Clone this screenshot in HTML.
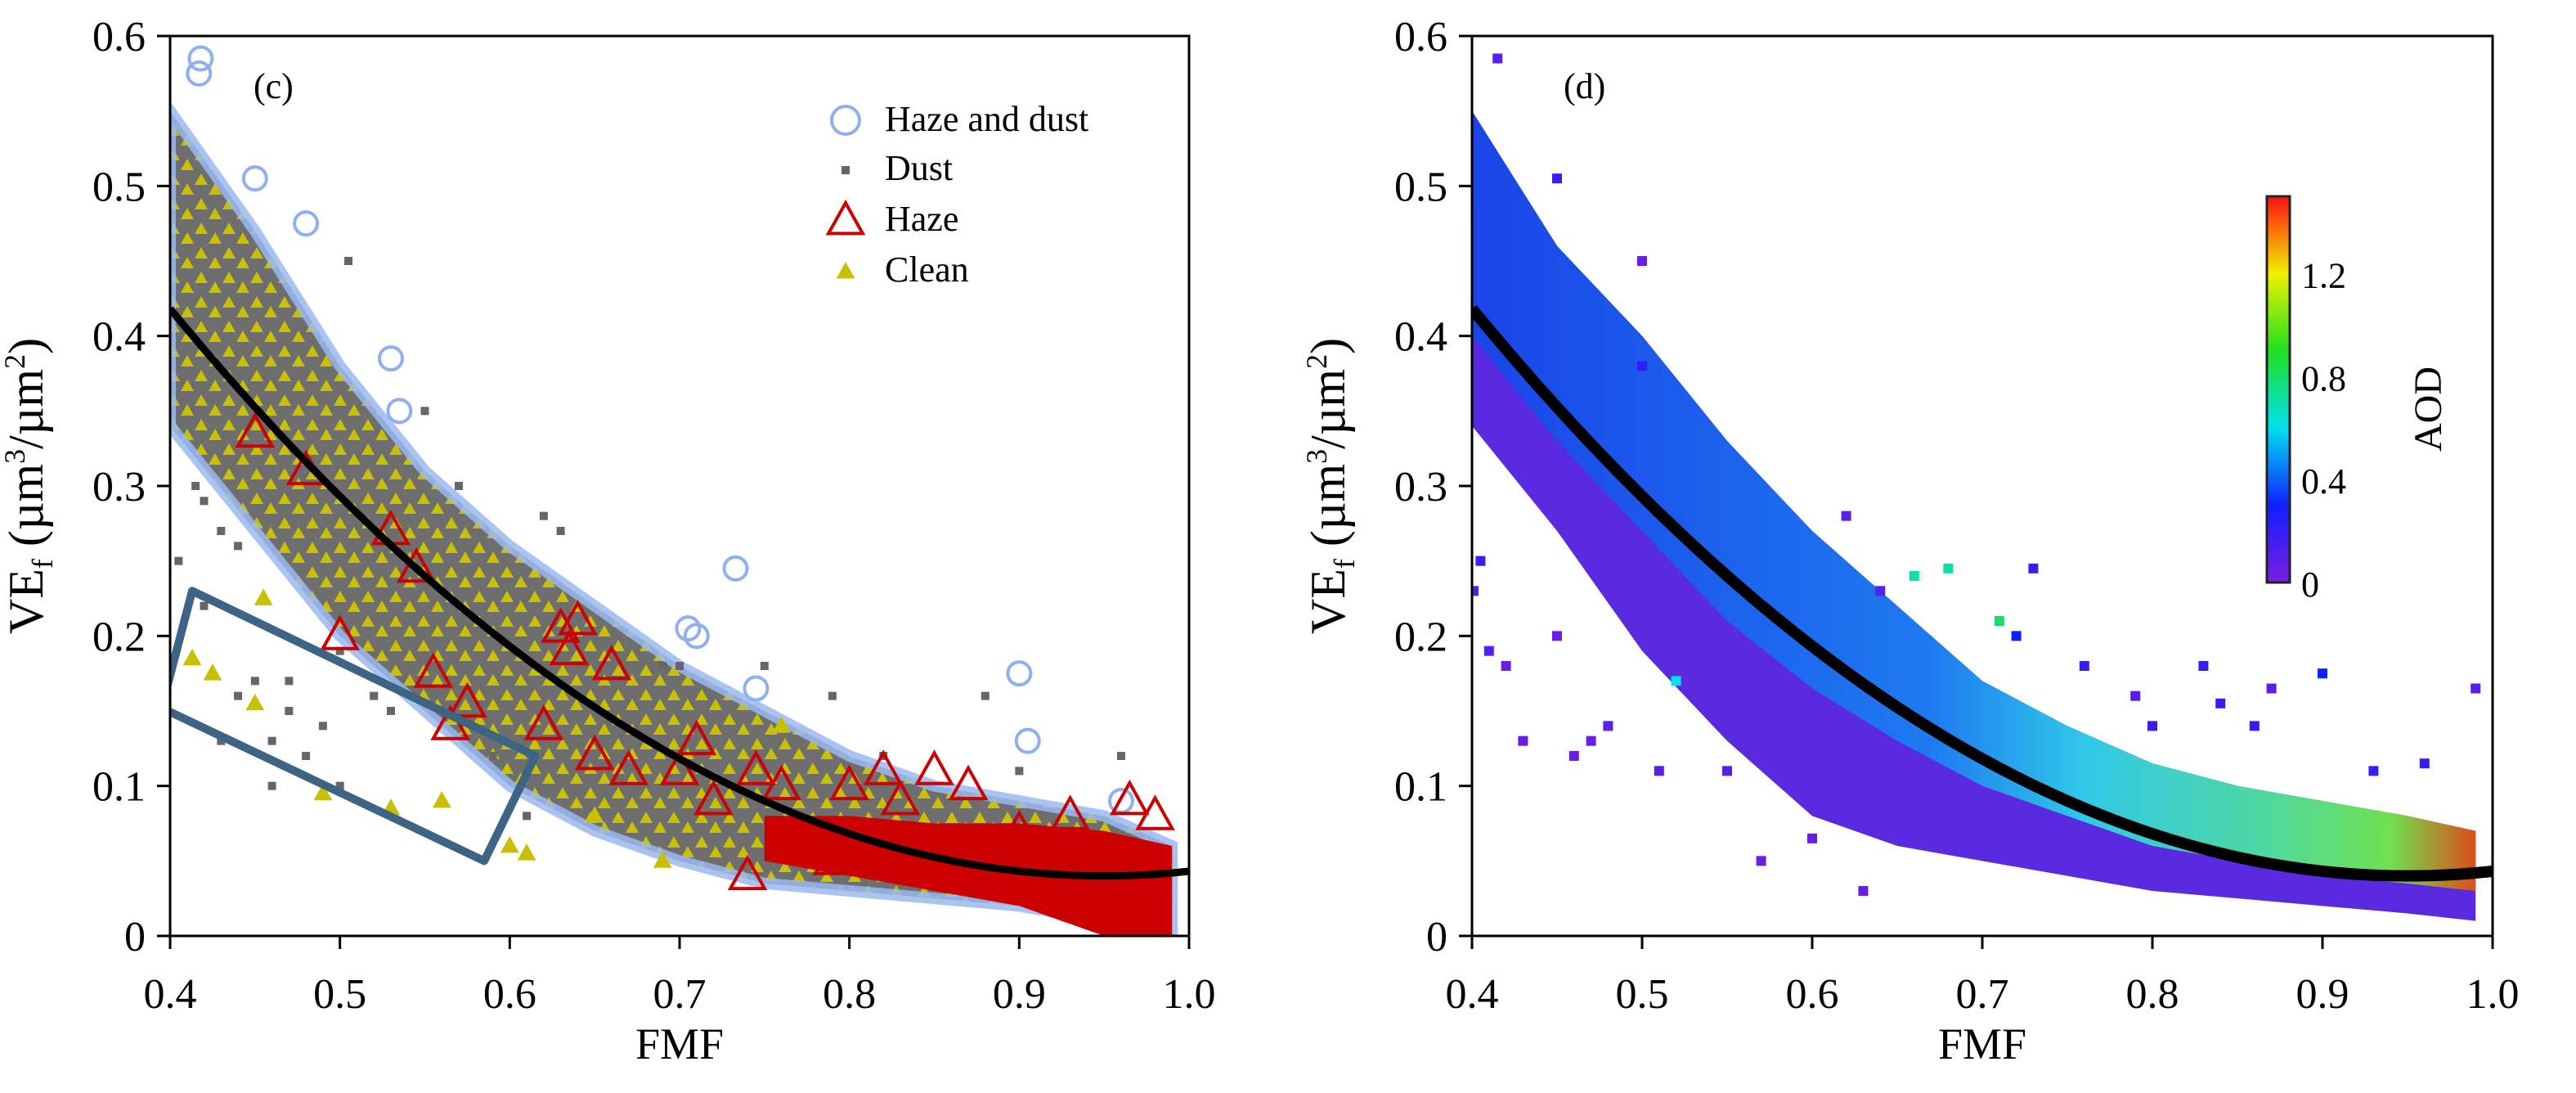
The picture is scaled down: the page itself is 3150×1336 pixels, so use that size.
<!DOCTYPE html>
<html><head><meta charset="utf-8"><style>
html,body{margin:0;padding:0;background:#fff;}
svg{display:block;font-family:"Liberation Serif",serif;}
</style></head><body>
<svg id="fig" width="3150" height="1336" viewBox="0 0 3150 1336" xmlns="http://www.w3.org/2000/svg">
<defs>
<pattern id="mixpat" width="34" height="30" patternUnits="userSpaceOnUse">
<rect width="34" height="30" fill="#6e6e6e"/>
<polygon points="8,2 16,16 0,16" fill="#c8c000"/>
<polygon points="25,14 33,28 17,28" fill="#c8c000"/>
</pattern>
<linearGradient id="cbgrad" x1="0" y1="1" x2="0" y2="0">
<stop offset="0" stop-color="#7a1ee0"/><stop offset="0.2" stop-color="#1020ff"/>
<stop offset="0.4" stop-color="#00e0f0"/><stop offset="0.6" stop-color="#20e020"/>
<stop offset="0.8" stop-color="#f0f000"/><stop offset="1" stop-color="#ff1010"/>
</linearGradient>
<linearGradient id="dgrad" x1="1800" y1="0" x2="3048" y2="0" gradientUnits="userSpaceOnUse">
<stop offset="0" stop-color="#1a44e8"/><stop offset="0.45" stop-color="#1e7af0"/>
<stop offset="0.6" stop-color="#30c8e8"/><stop offset="0.78" stop-color="#50d8a0"/>
<stop offset="0.9" stop-color="#70e050"/><stop offset="1" stop-color="#f03010"/>
</linearGradient>
<clipPath id="clipL"><rect x="208" y="44" width="1246" height="1100"/></clipPath>
<clipPath id="clipR"><rect x="1800" y="44" width="1248" height="1100"/></clipPath>
</defs>
<g id="root"></g>
</svg>
<script>
// ---- data ----
const xTicks = [0.4,0.5,0.6,0.7,0.8,0.9,1.0];
const xTickLabels = ["0.4","0.5","0.6","0.7","0.8","0.9","1.0"];
const yTicks = [0,0.1,0.2,0.3,0.4,0.5,0.6];
const yTickLabels = ["0","0.1","0.2","0.3","0.4","0.5","0.6"];
const fitA = 1.25, fitX0 = 0.95, fitC = 0.04;
const bandX = [0.4,0.45,0.5,0.55,0.6,0.65,0.7,0.75,0.8,0.85,0.9,0.95,0.99];
const bandUpperC = [0.55,0.47,0.38,0.31,0.26,0.22,0.18,0.15,0.12,0.10,0.09,0.08,0.06];
const bandLowerC = [0.34,0.27,0.20,0.15,0.10,0.07,0.05,0.035,0.03,0.025,0.02,0.01,0.0];
const hazeBandX = [0.75,0.8,0.85,0.9,0.95,0.99];
const hazeBandUpper = [0.08,0.08,0.075,0.075,0.07,0.06];
const hazeBandLower = [0.05,0.04,0.03,0.02,0.0,0.0];
const hazeTriX = [0.45,0.48,0.5,0.53,0.545,0.555,0.565,0.575,0.62,0.63,0.635,0.64,0.66,0.65,0.67,0.7,0.71,0.72,0.74,0.745,0.76,0.79,0.8,0.82,0.83,0.85,0.87,0.9,0.93,0.965,0.98];
const hazeTriY = [0.335,0.31,0.2,0.27,0.245,0.175,0.14,0.155,0.14,0.205,0.19,0.21,0.18,0.12,0.11,0.11,0.13,0.09,0.04,0.11,0.1,0.05,0.1,0.11,0.09,0.11,0.1,0.07,0.08,0.09,0.08];
const dustX = [0.405,0.415,0.42,0.43,0.44,0.45,0.46,0.47,0.48,0.49,0.5,0.505,0.52,0.53,0.55,0.57,0.59,0.61,0.62,0.63,0.69,0.7,0.75,0.79,0.82,0.88,0.9,0.96,0.42,0.44,0.47,0.5,0.43,0.46];
const dustY = [0.25,0.3,0.29,0.27,0.16,0.17,0.13,0.15,0.12,0.14,0.19,0.45,0.16,0.15,0.35,0.3,0.12,0.08,0.28,0.27,0.18,0.18,0.18,0.16,0.12,0.16,0.11,0.12,0.22,0.26,0.17,0.1,0.13,0.1];
const clean2X = [0.413,0.425,0.45,0.455,0.49,0.53,0.56,0.6,0.61,0.65,0.69,0.76];
const clean2Y = [0.185,0.175,0.155,0.225,0.095,0.085,0.09,0.06,0.055,0.08,0.05,0.14];
const hdX = [0.418,0.417,0.45,0.48,0.53,0.535,0.733,0.705,0.71,0.745,0.9,0.905,0.96];
const hdY = [0.585,0.575,0.505,0.475,0.385,0.35,0.245,0.205,0.2,0.165,0.175,0.13,0.09];
// right chart
const bandUpperD = [0.55,0.46,0.40,0.33,0.27,0.22,0.17,0.14,0.115,0.10,0.09,0.08,0.07];
const bandMidD = [0.40,0.33,0.27,0.21,0.165,0.13,0.1,0.08,0.06,0.05,0.04,0.035,0.03];
const bandLowerD = [0.34,0.27,0.19,0.13,0.08,0.06,0.05,0.04,0.03,0.025,0.02,0.015,0.01];
const outX = [0.401,0.405,0.41,0.42,0.43,0.45,0.46,0.47,0.48,0.5,0.51,0.52,0.55,0.57,0.6,0.62,0.63,0.64,0.66,0.68,0.71,0.72,0.73,0.76,0.79,0.8,0.83,0.84,0.86,0.87,0.9,0.93,0.96,0.99,0.415,0.5,0.45];
const outY = [0.23,0.25,0.19,0.18,0.13,0.2,0.12,0.13,0.14,0.45,0.11,0.17,0.11,0.05,0.065,0.28,0.03,0.23,0.24,0.245,0.21,0.2,0.245,0.18,0.16,0.14,0.18,0.155,0.14,0.165,0.175,0.11,0.115,0.165,0.585,0.38,0.505];
const outAOD = [0.1,0.2,0.1,0.05,0.05,0.05,0.05,0.05,0.1,0.05,0.1,0.6,0.1,0.05,0.05,0.1,0.05,0.1,0.7,0.7,0.8,0.3,0.2,0.2,0.1,0.2,0.2,0.2,0.2,0.1,0.3,0.2,0.2,0.1,0.1,0.2,0.2];
const cbTicks = [0,0.4,0.8,1.2];
const cbMax = 1.5;

// ---- helpers ----
const NS = "http://www.w3.org/2000/svg";
const root = document.getElementById('root');
function mk(tag, attrs, parent){const e=document.createElementNS(NS,tag);for(const k in attrs)e.setAttribute(k,attrs[k]);(parent||root).appendChild(e);return e;}
function axes(x0,x1){return {x:v=>x0+(v-0.4)/0.6*(x1-x0), y:v=>1144-v/0.6*1100};}
const L = axes(208,1454), R = axes(1800,3048);
function fit(v){return fitA*(v-fitX0)*(v-fitX0)+fitC;}
function aodColor(a){const t=Math.min(1,Math.max(0,a/cbMax));
 const st=[[0,[122,30,224]],[0.2,[16,32,255]],[0.4,[0,224,240]],[0.6,[32,224,32]],[0.8,[240,240,0]],[1,[255,16,16]]];
 for(let i=1;i<st.length;i++){if(t<=st[i][0]){const f=(t-st[i-1][0])/(st[i][0]-st[i-1][0]);const c=st[i-1][1].map((v,j)=>Math.round(v+(st[i][1][j]-v)*f));return `rgb(${c})`;}}return 'rgb(255,16,16)';}
function bandPath(A,xs,up,lo){let d='M'+xs.map((v,i)=>A.x(v)+','+A.y(up[i])).join(' L');d+=' L'+xs.slice().reverse().map((v,i)=>A.x(v)+','+A.y(lo[xs.length-1-i])).join(' L')+'Z';return d;}
function triPts(cx,cy,s){return `${cx},${cy-s} ${cx+s*0.95},${cy+s*0.7} ${cx-s*0.95},${cy+s*0.7}`;}

function drawAxes(A,x0,x1,pname){
 const g=mk('g',{});
 
 
 const fr=mk('rect',{x:x0,y:44,width:x1-x0,height:1100,fill:'none',stroke:'#000','stroke-width':3},g);
 
 
 xTicks.forEach((v,i)=>{
  mk('line',{x1:A.x(v),x2:A.x(v),y1:1144,y2:1160,stroke:'#000','stroke-width':3},g);
  const t=mk('text',{x:A.x(v),y:1232,'font-size':52,'text-anchor':'middle'},g);
  t.textContent=xTickLabels[i];
  
  
 });
 yTicks.forEach((v,i)=>{
  mk('line',{x1:x0-16,x2:x0,y1:A.y(v),y2:A.y(v),stroke:'#000','stroke-width':3},g);
  const t=mk('text',{x:x0-30,y:A.y(v)+18,'font-size':52,'text-anchor':'end'},g);
  t.textContent=yTickLabels[i];
  
  
 });
 const xt=mk('text',{x:(x0+x1)/2,y:1294,'font-size':54,'text-anchor':'middle'},g);
 xt.textContent='FMF';
 
 
 const yt=mk('text',{transform:`translate(${x0-156},594) rotate(-90)`,'font-size':60,'text-anchor':'middle'},g);
 yt.innerHTML='VE<tspan font-size="36" dy="12">f</tspan><tspan dy="-12"> (µm</tspan><tspan font-size="36" dy="-22">3</tspan><tspan dy="22">/µm</tspan><tspan font-size="36" dy="-22">2</tspan><tspan dy="22">)</tspan>';
 
 
}
function drawFit(A,clip,w){
 let d='';for(let i=0;i<=60;i++){const v=0.4+i*0.01;d+=(i?'L':'M')+A.x(v)+','+A.y(fit(v));}
 const p=mk('path',{d:d,fill:'none',stroke:'#000','stroke-width':w,'clip-path':clip});
 
 
}

// ---- left chart (c) ----
const gl=mk('g',{'clip-path':'url(#clipL)'});


const b1=mk('path',{d:bandPath(L,bandX,bandUpperC,bandLowerC),fill:'url(#mixpat)',stroke:'#9ab8f0','stroke-width':14,'stroke-opacity':0.85},gl);


const b2=mk('path',{d:bandPath(L,hazeBandX,hazeBandUpper,hazeBandLower),fill:'#cc0000'},gl);


hdX.forEach((v,i)=>{const c=mk('circle',{cx:L.x(v),cy:L.y(hdY[i]),r:14,fill:'none',stroke:'#8fb0f0','stroke-width':4},gl);
 
 });
dustX.forEach((v,i)=>{const c=mk('rect',{x:L.x(v)-5,y:L.y(dustY[i])-5,width:10,height:10,fill:'#666'},gl);
 
 });
clean2X.forEach((v,i)=>{const c=mk('polygon',{points:triPts(L.x(v),L.y(clean2Y[i]),12),fill:'#c8c000'},gl);
 
 });
hazeTriX.forEach((v,i)=>{const c=mk('polygon',{points:triPts(L.x(v),L.y(hazeTriY[i]),22),fill:'none',stroke:'#cc0000','stroke-width':4},gl);
 
 });
const box=mk('polygon',{points:[[0.413,0.23],[0.615,0.12],[0.585,0.05],[0.395,0.152]].map(p=>L.x(p[0])+','+L.y(p[1])).join(' '),fill:'none',stroke:'#3d6385','stroke-width':10,'stroke-linejoin':'round'},gl);


drawFit(L,'url(#clipL)',9);
drawAxes(L,208,1454,'panel-c');
const lc=mk('text',{x:310,y:120,'font-size':44});lc.textContent='(c)';


// legend
const leg=mk('g',{});


const legLabels=['Haze and dust','Dust','Haze','Clean'];
const legY=[160,220,282,344];
mk('circle',{cx:1034,cy:legY[0]-13,r:17,fill:'none',stroke:'#8fb0f0','stroke-width':4},leg);
mk('rect',{x:1029,y:legY[1]-17,width:10,height:10,fill:'#666'},leg);
mk('polygon',{points:triPts(1034,legY[2]-12,22),fill:'none',stroke:'#cc0000','stroke-width':4},leg);
mk('polygon',{points:triPts(1034,legY[3]-12,12),fill:'#c8c000'},leg);
legLabels.forEach((s,i)=>{const t=mk('text',{x:1082,y:legY[i],'font-size':44},leg);t.textContent=s;
 
 });

// ---- right chart (d) ----
const gr=mk('g',{'clip-path':'url(#clipR)'});


const d1=mk('path',{d:bandPath(R,bandX,bandUpperD,bandLowerD),fill:'#5a2ae0'},gr);


const d2=mk('path',{d:bandPath(R,bandX,bandUpperD,bandMidD),fill:'url(#dgrad)'},gr);


outX.forEach((v,i)=>{const c=mk('rect',{x:R.x(v)-6,y:R.y(outY[i])-6,width:12,height:12,fill:aodColor(outAOD[i])},gr);
 
 });
drawFit(R,'url(#clipR)',14);
drawAxes(R,1800,3048,'panel-d');
const ld=mk('text',{x:1912,y:120,'font-size':44});ld.textContent='(d)';


// colorbar
const cb=mk('g',{});


const cbTop=240, cbBot=712;
mk('rect',{x:2772,y:cbTop,width:28,height:cbBot-cbTop,fill:'url(#cbgrad)',stroke:'#222','stroke-width':3},cb);
cbTicks.forEach(v=>{const y=cbBot-v/cbMax*(cbBot-cbTop);const t=mk('text',{x:2814,y:y+17,'font-size':44},cb);t.textContent=String(v);
 
 });
const ct=mk('text',{transform:'translate(2985,500) rotate(-90)','font-size':48,'text-anchor':'middle'},cb);
ct.textContent='AOD';


</script>
</body></html>
